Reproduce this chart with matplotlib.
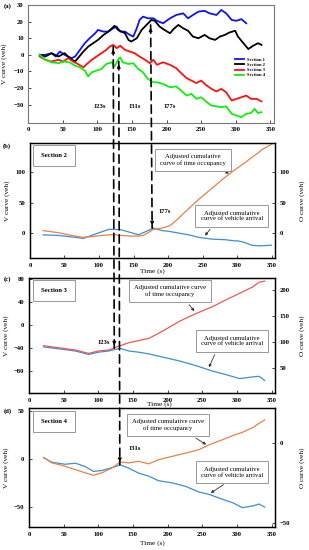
import numpy as np
import matplotlib.pyplot as plt
from matplotlib.patches import ConnectionPatch

plt.rcParams['font.family'] = ['Liberation Serif', 'DejaVu Serif']
plt.rcParams['font.size'] = 4.8
plt.rcParams['font.weight'] = 'bold'

# (a) V curves of the four sections
t_s1 = [17, 25, 34, 40, 46, 53, 63, 68, 75, 82, 89, 97, 101, 109, 116, 123, 128, 133, 140, 147,
        152, 157, 161, 166, 173, 181, 186, 195, 205, 214, 224, 231, 238, 246, 255, 262, 272, 279,
        286, 294, 301, 308, 315]
v_s1 = [0, 0, 1, -1, 2, 0, -2, -1, 3, 7, 10, 13, 15, 14, 14, 16, 17, 14, 14, 12,
        11, 16, 21, 23, 22, 22, 20.5, 19, 22, 24, 25, 22, 24, 26, 26.5, 25, 24, 27,
        25, 21, 20.5, 21.5, 19]

t_s2 = [17, 25, 34, 44, 53, 60, 68, 72, 80, 87, 94, 101, 109, 116, 121, 125, 130, 135, 140, 145,
        149, 157, 164, 171, 178, 183, 190, 197, 205, 210, 217, 224, 231, 238, 246, 255, 262, 270,
        277, 284, 291, 299, 303, 311, 318, 325, 332, 337]
v_s2 = [0, -1, 1, -1, 1, -2, -4, -2, 2, 5, 7, 9, 12, 14, 16, 17.5, 15, 14, 13, 9,
        8, 10, 15, 18, 21, 20.5, 17, 15, 13, 15.5, 18, 16, 14.5, 11, 10, 12, 10, 9,
        11, 12, 13.5, 14.5, 11, 7, 3.5, 5.5, 7, 6]

t_s3 = [17, 25, 34, 44, 51, 58, 65, 72, 80, 85, 92, 99, 106, 113, 118, 123, 128, 133, 140, 147,
        154, 161, 169, 176, 181, 186, 195, 205, 214, 221, 229, 236, 243, 250, 258, 265, 272, 279,
        286, 294, 301, 308, 315, 322, 330, 337]
v_s3 = [-1, -3, -4, -3, -4, -2, -4, -5.5, -7.5, -5.5, -3, -1, 1, 3, 5, 6, 4, 5.5, 3, 2,
        1, -1, -3, -5, -3, -6, -4.5, -6, -8, -11, -14, -15.5, -17, -15.5, -18.5, -20.5, -22, -20.5,
        -22.5, -27.5, -26.5, -25.5, -24.5, -26.5, -26.5, -28]

t_s4 = [17, 25, 34, 44, 53, 60, 68, 75, 82, 87, 92, 99, 106, 113, 121, 125, 130, 133, 137, 145,
        152, 159, 166, 173, 181, 186, 195, 205, 214, 221, 229, 236, 243, 250, 258, 265, 272, 279,
        286, 294, 301, 308, 315, 322, 327, 332, 337]
v_s4 = [0, -3, -4.5, -5, -4, -4.5, -6.5, -7.5, -9.5, -13, -10.5, -9.5, -8.5, -5.5, -4.5, -7, -3, -1.5, -4.5, -5.5,
        -5, -8.5, -10.5, -14.5, -16.5, -16.5, -17.5, -19.5, -19, -21.5, -24.5, -23.5, -26.5, -25.5, -28.5, -30.5, -31, -31.5,
        -31, -35.5, -36.5, -37.5, -35.5, -35, -32.5, -35, -34.5]

# (b) section 2
t_b = [19, 41, 65, 77, 89, 104, 114, 123, 133, 147, 157, 164, 171, 179, 191, 200, 205, 215, 225,
       230, 244, 263, 283, 297, 302, 312, 321, 331, 336, 350]
v_b = [-3, -4, -7, -9, -4, 2, 6, 6, 5, 0.5, -3, 0.5, 4, 8, 4, 3, 2, 0, -2,
       -3, -7, -10, -11, -13, -13, -16, -20, -21, -21, -20]
o_b = [4, 0.5, -5, -7, -6, -4, -3, -3, -4, -5, -5, -4, 0.5, 6, 8, 11, 14, 24, 35,
       40, 55, 73, 92, 104, 108, 116, 124, 132, 137, 146]

# (c) section 3
t_c = [21, 42, 67, 86, 100, 115, 125, 132, 144, 158, 173, 187, 202, 216, 231, 245, 265, 284, 304, 323, 332, 340]
v_c = [-38, -41, -45, -51, -47, -45, -42, -40.5, -45, -47, -50, -54, -58, -62, -67, -72, -80, -86, -93, -90, -89, -96]
o_c = [93, 89, 84.6, 78, 82.7, 84.6, 90, 93, 98.7, 102.5, 107, 116.7, 128, 139, 148.7, 157, 168, 181, 193.6, 206, 215, 217]

# (d) section 4
t_d = [21, 33, 52, 67, 81, 93, 105, 120, 132, 144, 158, 173, 187, 207, 226, 245, 260, 279, 294, 308, 323, 332, 340]
v_d = [1.3, -3.4, -5.5, -4.4, -7.9, -13, -12, -9, -6.2, -9.6, -14.7, -18, -22.7, -25, -28.6, -34.4, -37, -42, -45.7, -50.8, -49, -47, -50.2]
o_d = [-9.1, -12.5, -14.6, -16.7, -18.7, -20.2, -18.7, -15.6, -11.9, -12.5, -11.5, -13.1, -10.5, -8.4, -6.4, -4.3, -1.2, 1.9, 4.5, 6.6, 9.5, 12.2, 14.2]

fig = plt.figure(figsize=(3.09, 5.5), dpi=100)

ax_a = fig.add_axes([0.0906, 0.7764, 0.796, 0.2145])
ax_b = fig.add_axes([0.097, 0.531, 0.793, 0.209])
ax_c = fig.add_axes([0.094, 0.2855, 0.796, 0.209])
ax_d = fig.add_axes([0.094, 0.0418, 0.796, 0.216])

# panel (a)
ax_a.plot(t_s1, v_s1, color='#1010ff', lw=1.3, label='Section 1')
ax_a.plot(t_s2, v_s2, color='black', lw=1.3, label='Section 2')
ax_a.plot(t_s3, v_s3, color='#ff1010', lw=1.3, label='Section 3')
ax_a.plot(t_s4, v_s4, color='#10ee10', lw=1.3, label='Section 4')
ax_a.set_xlim(0, 355)
ax_a.set_ylim(-41, 30)
ax_a.set_xticks(range(0, 351, 50))
ax_a.set_yticks(range(-30, 31, 10))
ax_a.tick_params(length=2, width=0.5, direction='in', pad=3)
ax_a.set_ylabel('V curve (veh)', fontsize=5.2)
ax_a.yaxis.set_label_coords(-0.085, 0.5)
for s in ax_a.spines.values():
    s.set_color('#777777')
    s.set_linewidth(0.8)
ax_a.legend(loc='center left', bbox_to_anchor=(0.83, 0.47), frameon=False, fontsize=3.3,
            handlelength=1.8, labelspacing=0.2, borderpad=0.2)
ax_a.text(104, -31, '123s', ha='center', va='center')
ax_a.text(154, -31, '131s', ha='center', va='center')
ax_a.text(205, -31, '177s', ha='center', va='center')

box = dict(boxstyle='square,pad=0.8', fc='white', ec='#888888', lw=0.6)
box_sec = dict(boxstyle='square,pad=1.2', fc='white', ec='#888888', lw=0.6)
arr = dict(arrowstyle='-|>', color='#333333', lw=0.6, mutation_scale=4)


def panel(ax, t, v, o, v_col, o_col, name, vlim, olim, vticks, oticks):
    ax2 = ax.twinx()
    ax.plot(t, v, color=v_col, lw=0.9)
    ax2.plot(t, o, color=o_col, lw=0.9)
    ax.set_xlim(0, 355)
    ax.set_ylim(*vlim)
    ax2.set_ylim(*olim)
    ax.set_xticks(range(0, 351, 50))
    ax.set_yticks(vticks)
    ax2.set_yticks(oticks)
    ax.set_ylabel('V curve (veh)', fontsize=5.2)
    ax2.set_ylabel('O curve (veh)', fontsize=5.2)
    ax.set_xlabel('Time (s)', fontsize=5.2)
    ax.yaxis.set_label_coords(-0.08, 0.5)
    ax2.yaxis.set_label_coords(1.1, 0.5)
    for a in (ax, ax2):
        a.tick_params(length=2, width=0.5, direction='in', pad=3.5)
        for s in a.spines.values():
            s.set_linewidth(0.9)
    ax.text(0.1, 0.89, name, transform=ax.transAxes, ha='center', va='center', bbox=box_sec)
    return ax2


ax_b2 = panel(ax_b, t_b, v_b, o_b, '#3d8fcf', '#e8804a', 'Section 2', (-41, 148), (-41, 148),
              [0, 50, 100], [0, 50, 100])
ax_c2 = panel(ax_c, t_c, v_c, o_c, '#3d8fcf', '#f05555', 'Section 3', (-118, 82), (2, 223),
              [-80, -40, 0, 40, 80], [50, 100, 150, 200])
ax_d2 = panel(ax_d, t_d, v_d, o_d, '#3d8fcf', '#e8804a', 'Section 4', (-71, 53), (-52.5, 21.6),
              [-50, 0, 50], [-50, 0])
ax_b.xaxis.set_label_coords(0.5, -0.085)
ax_c.xaxis.set_label_coords(0.53, -0.075)
ax_d.xaxis.set_label_coords(0.5, -0.11)

# text boxes with arrows
ax_b2.annotate('Adjusted cumulative\ncurve of time occupancy', xy=(292, 96), xytext=(0.665, 0.85),
               textcoords='axes fraction', ha='center', va='center', fontweight='normal', bbox=box,
               arrowprops=dict(arr, relpos=(0.8, 0)))
ax_b.annotate('Adjusted cumulative\ncurve of vehicle arrival', xy=(251, -8), xytext=(0.824, 0.365),
              textcoords='axes fraction', ha='center', va='center', fontweight='normal', bbox=box,
              arrowprops=dict(arr, relpos=(0.25, 0)))
ax_c2.annotate('Adjusted cumulative curve\nof time occupancy', xy=(241, 155), xytext=(0.573, 0.887),
               textcoords='axes fraction', ha='center', va='center', fontweight='normal', bbox=box,
               arrowprops=dict(arr, relpos=(0.68, 0)))
ax_c.annotate('Adjusted cumulative\ncurve of vehicle arrival', xy=(258, -78), xytext=(0.825, 0.452),
              textcoords='axes fraction', ha='center', va='center', fontweight='normal', bbox=box,
              arrowprops=dict(arr, relpos=(0.28, 0)))
ax_d2.annotate('Adjusted cumulative curve\nof time occupancy', xy=(259, -2), xytext=(0.565, 0.857),
               textcoords='axes fraction', ha='center', va='center', fontweight='normal', bbox=box,
               arrowprops=dict(arr, relpos=(0.73, 0)))
ax_d.annotate('Adjusted cumulative\ncurve of vehicle arrival', xy=(259, -37), xytext=(0.825, 0.462),
              textcoords='axes fraction', ha='center', va='center', fontweight='normal', bbox=box,
              arrowprops=dict(arr, relpos=(0.54, 0)))

ax_b.text(186, 35, '177s', ha='left', va='center')
ax_c.text(108, -31, '123s', ha='center', va='center')
ax_d.text(152, 11, '131s', ha='center', va='center')

fig.text(0.026, 0.989, '(a)', ha='center', va='center')
fig.text(0.023, 0.735, '(b)', ha='center', va='center')
fig.text(0.023, 0.493, '(c)', ha='center', va='center')
fig.text(0.026, 0.253, '(d)', ha='center', va='center')


# dashed markers linking the moments across panels
def drop_line(t, ax_top, y_top, ax_bot, y_bot):
    con = ConnectionPatch(xyA=(t, y_top), coordsA='data', axesA=ax_top,
                          xyB=(t, y_bot), coordsB='data', axesB=ax_bot,
                          color='black', lw=1.2, linestyle=(0, (5, 3)))
    fig.add_artist(con)
    head = dict(arrowstyle='-|>', color='black', lw=0.8, mutation_scale=5)
    ax_top.annotate('', xy=(t, y_top), xytext=(0, -6), textcoords='offset points', arrowprops=head)
    ax_bot.annotate('', xy=(t, y_bot), xytext=(0, 6), textcoords='offset points', arrowprops=head)


drop_line(123, ax_a, 5, ax_c, -40)
drop_line(131, ax_a, -4, ax_d, -6)
drop_line(177, ax_a, 18, ax_b, 8)

fig.savefig('out.png', dpi=100)
